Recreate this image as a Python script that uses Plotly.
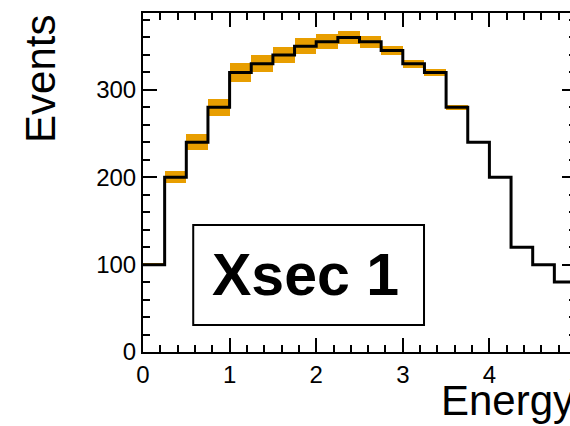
import numpy as np
import plotly.graph_objects as go

# Binning of the energy spectrum
bin_width = 0.25
x_min, x_max = 0.0, 5.0
y_max = 388

# Event counts per bin
events = [100, 200, 240, 280, 320, 330, 340, 350, 355, 360,
          355, 345, 330, 320, 280, 240, 200, 120, 100, 80]
# Half-size of the uncertainty band per bin
band_err = [1.5, 7, 9, 10, 11, 10, 9.5, 9, 8.5, 7.5,
            6.5, 5.5, 4.5, 4, 3, 0, 0, 0, 0, 0]

x_ticks = [0, 1, 2, 3, 4, 5]
y_ticks = [0, 100, 200, 300]

edges = x_min + bin_width * np.arange(len(events) + 1)
centers = edges[:-1] + bin_width / 2
ev = np.array(events, dtype=float)
err = np.array(band_err, dtype=float)

FONT = "Liberation Sans, Arial, Helvetica, sans-serif"
ORANGE = "#E89E00"

fig = go.Figure()

# uncertainty band drawn as filled boxes
fig.add_trace(go.Bar(
    x=centers, y=2 * err, base=ev - err, width=bin_width,
    marker=dict(color=ORANGE, line=dict(width=0)),
    hoverinfo="skip", showlegend=False,
))

# step histogram outline
step_x = np.append(edges[:-1], edges[-1])
step_y = np.append(ev, ev[-1])
fig.add_trace(go.Scatter(
    x=step_x, y=step_y, mode="lines", line_shape="hv",
    line=dict(color="black", width=3), showlegend=False,
))

axis_common = dict(
    showline=True, linecolor="black", linewidth=2, mirror="ticks",
    ticks="inside", ticklen=14, tickwidth=2, tickcolor="black",
    showgrid=False, zeroline=False,
    tickfont=dict(family=FONT, size=24, color="black"),
)

fig.update_xaxes(
    range=[x_min, x_max], tickvals=x_ticks, ticktext=[str(t) for t in x_ticks],
    minor=dict(dtick=0.2, ticks="inside", ticklen=7, tickwidth=2, tickcolor="black"),
    **axis_common,
)
fig.update_yaxes(
    range=[0, y_max], tickvals=y_ticks, ticktext=[str(t) for t in y_ticks],
    minor=dict(dtick=20, ticks="inside", ticklen=7, tickwidth=2, tickcolor="black"),
    **axis_common,
)

# label box
fig.add_shape(type="rect", xref="paper", yref="paper",
              x0=0.116, x1=0.649, y0=0.080, y1=0.375,
              line=dict(color="black", width=2), fillcolor="white", layer="above")
fig.add_annotation(text="<b>Xsec 1</b>", xref="paper", yref="paper",
                   x=0.376, y=0.226, xanchor="center", yanchor="middle",
                   showarrow=False, font=dict(family=FONT, size=59, color="black"))

# axis titles
fig.add_annotation(text="Energy", xref="paper", yref="paper",
                   x=1.0, y=-0.218, xanchor="right", yanchor="bottom",
                   showarrow=False, font=dict(family=FONT, size=42, color="black"))
fig.add_annotation(text="Events", xref="paper", yref="paper", textangle=-90,
                   x=-0.238, y=1.0, xanchor="center", yanchor="top",
                   showarrow=False, font=dict(family=FONT, size=42, color="black"))

fig.update_layout(
    width=600, height=426,
    margin=dict(l=143, r=24, t=13, b=74),
    paper_bgcolor="white", plot_bgcolor="white",
    barmode="overlay", bargap=0,
)

fig.write_html(
    "out.html",
    post_script="document.documentElement.style.overflow='hidden';"
                "document.body.style.overflow='hidden';document.body.style.margin='0';",
)
